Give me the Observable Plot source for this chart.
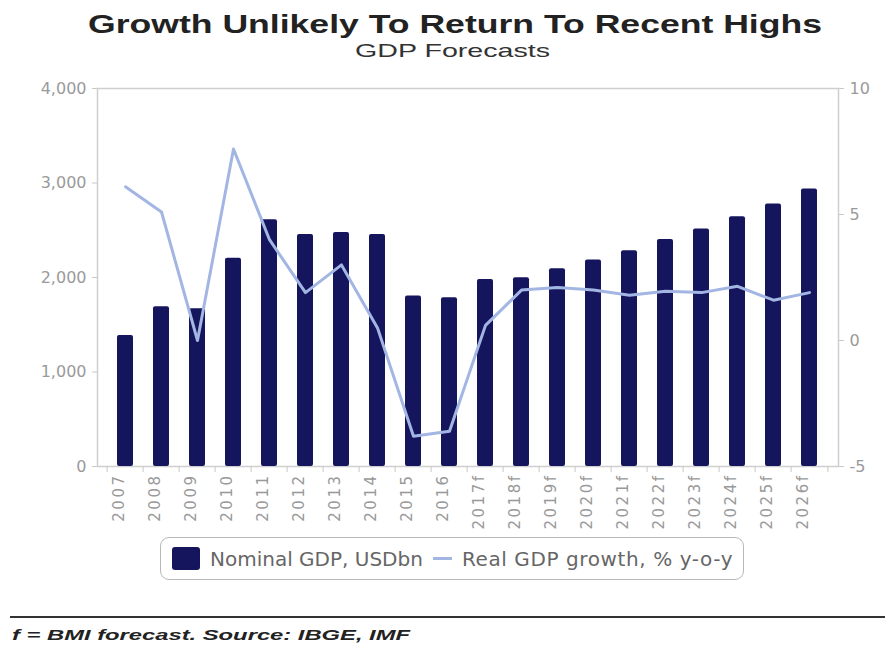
<!DOCTYPE html>
<html><head><meta charset="utf-8">
<script src="https://cdn.jsdelivr.net/npm/d3@7"></script>
<script src="https://cdn.jsdelivr.net/npm/@observablehq/plot@0.6"></script>
<style>
body{margin:0;background:#fff;width:885px;height:646px;position:relative;overflow:hidden;font-family:"Liberation Sans",Arial,sans-serif}
.fit{position:absolute;white-space:nowrap;transform-origin:0 0;line-height:1}
#title{top:11px;font-weight:bold;font-size:26px;color:#222}
#subtitle{top:41px;font-size:19px;color:#333}
#chart{position:absolute;left:0;top:70px}
#legend{position:absolute;left:160px;top:537px;width:584px;height:43px;border:1.5px solid #b8b8b8;border-radius:9px;box-sizing:border-box;display:flex;align-items:center;font-family:"DejaVu Sans",sans-serif;font-size:20px;color:#666;white-space:nowrap}
#legend .sw{display:inline-block;width:28px;height:23px;background:#15155e;border-radius:3px;margin-left:11px;margin-right:10px}
#legend .ln{display:inline-block;width:19px;height:3px;background:#a3b6e3;margin-left:10px;margin-right:10px}
#l2{letter-spacing:0.6px}
#rule{position:absolute;left:10px;right:0;top:616px;border-top:2px solid #333}
#caption{top:627px;font-style:italic;font-weight:bold;font-size:15px;color:#222}
</style></head><body>
<div id="title" class="fit">Growth Unlikely To Return To Recent Highs</div>
<div id="subtitle" class="fit">GDP Forecasts</div>
<div id="chart"></div>
<div id="legend"><span class="sw"></span><span id="l1">Nominal GDP, USDbn</span><span class="ln"></span><span id="l2">Real GDP growth, % y-o-y</span></div>
<div id="rule"></div>
<div id="caption" class="fit">f = BMI forecast. Source: IBGE, IMF</div>
<script>
const years = ["2007","2008","2009","2010","2011","2012","2013","2014","2015","2016","2017f","2018f","2019f","2020f","2021f","2022f","2023f","2024f","2025f","2026f"];
const nominalGDP = [1385,1690,1668,2205,2610,2455,2475,2455,1805,1785,1980,1998,2092,2186,2282,2402,2512,2643,2777,2936];
const realGrowth = [6.1,5.1,0.0,7.6,4.0,1.9,3.0,0.5,-3.8,-3.6,0.6,2.0,2.1,2.0,1.8,1.95,1.9,2.15,1.6,1.9];
const leftTicks = [0,1000,2000,3000,4000];
const rightTicks = [-5,0,5,10];
const leftDomain = [0,4000];
const rightDomain = [-5,10];

const toLeft = v => (v - rightDomain[0]) / (rightDomain[1] - rightDomain[0]) * (leftDomain[1] - leftDomain[0]) + leftDomain[0];
const fromLeft = y => Math.round(((y - leftDomain[0]) / (leftDomain[1] - leftDomain[0]) * (rightDomain[1] - rightDomain[0]) + rightDomain[0]) * 100) / 100;

const data = years.map((year, i) => ({year, gdp: nominalGDP[i], growth: realGrowth[i]}));

const W = 885, ML = 97, MR = 47;
const pIn = 0.55, pOut = 0.343;
const step = (W - ML - MR) / (years.length - pIn + 2 * pOut);

const plot = Plot.plot({
  width: W, height: 466, marginTop: 18, marginBottom: 70, marginLeft: ML, marginRight: MR,
  x: {domain: years, paddingInner: pIn, paddingOuter: pOut, label: null},
  y: {domain: leftDomain, label: null},
  style: {fontFamily: "'DejaVu Sans', sans-serif", fontSize: "16px", background: "transparent", color: "#999"},
  marks: [
    Plot.frame({stroke: "#cfcfcf", strokeWidth: 1.5}),
    Plot.barY(data, {x: "year", y: "gdp", fill: "#15155e", rx: 2}),
    Plot.line(data, {x: "year", y: d => toLeft(d.growth), stroke: "#a3b6e3", strokeWidth: 3}),
    Plot.axisY(leftTicks, {anchor: "left", tickFormat: d3.format(","), tickSize: 5, tickPadding: 6, stroke: "#c8c8c8", fill: "#9a9a9a", fontSize: 16}),
    Plot.axisY(rightTicks.map(toLeft), {anchor: "right", tickFormat: d => String(fromLeft(d)), tickSize: 5, tickPadding: 6, stroke: "#c8c8c8", fill: "#9a9a9a", fontSize: 16}),
    Plot.axisX({tickRotate: -90, tickSize: 0, tickPadding: 7, dx: -6, fill: "#999", fontSize: 15}),
    Plot.axisX({tickFormat: () => "", tickSize: 6, dx: -step / 2, stroke: "#c8c8c8"}),
    Plot.axisX([years[years.length - 1]], {tickFormat: () => "", tickSize: 6, dx: step / 2, stroke: "#c8c8c8"})
  ]
});
document.getElementById("chart").appendChild(plot);
plot.querySelectorAll("text").forEach(t => { if (/^20/.test(t.textContent)) t.style.letterSpacing = "2.5px"; });

function fit(id, left, right) {
  const el = document.getElementById(id);
  const w = el.getBoundingClientRect().width;
  el.style.left = left + "px";
  el.style.transform = `scaleX(${(right - left) / w})`;
}
fit("title", 88, 822);
fit("subtitle", 355, 550);
fit("caption", 12, 410);
</script>
</body></html>
